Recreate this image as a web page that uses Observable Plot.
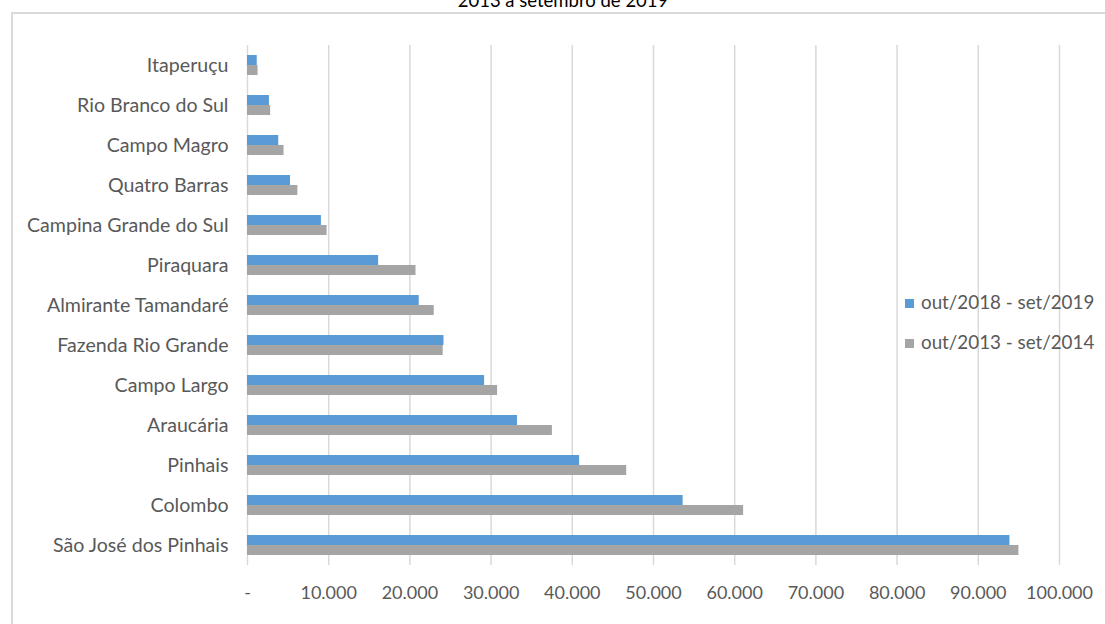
<!DOCTYPE html>
<html>
<head>
<meta charset="utf-8">
<script src="https://cdn.jsdelivr.net/npm/d3@7"></script>
<script src="https://cdn.jsdelivr.net/npm/@observablehq/plot@0.6"></script>
<style>
  html, body { margin: 0; padding: 0; background: #fff; }
  #wrap { position: relative; width: 1105px; height: 624px; overflow: hidden; font-family: Lato, "Open Sans", sans-serif; }
  #title { position: absolute; left: 0; width: 1126px; top: -11px; text-align: center; font-size: 18.5px; color: #000; }
  #frame { position: absolute; left: 11px; top: 12px; width: 1110px; height: 700px; border: 2px solid #d9d9d9; box-sizing: border-box; }
  #chart { position: absolute; left: 0; top: 0; }
  #legend { position: absolute; left: 905px; top: 282px; font-size: 18.8px; color: #595959; line-height: 40px; }
  #legend .sw { display: inline-block; width: 9px; height: 9px; margin-right: 7px; vertical-align: 1px; }
</style>
</head>
<body>
<div id="wrap">
  <div id="frame"></div>
  <div id="title">2013 a setembro de 2019</div>
  <div id="chart"></div>
  <div id="legend"></div>
</div>
<script>
const cities = ["Itaperuçu","Rio Branco do Sul","Campo Magro","Quatro Barras","Campina Grande do Sul","Piraquara","Almirante Tamandaré","Fazenda Rio Grande","Campo Largo","Araucária","Pinhais","Colombo","São José dos Pinhais"];
const series = ["out/2018 - set/2019","out/2013 - set/2014"];
const values2019 = [1200, 2700, 3850, 5300, 9100, 16150, 21150, 24200, 29200, 33250, 40900, 53650, 93900];
const values2014 = [1300, 2850, 4500, 6200, 9800, 20750, 23000, 24100, 30800, 37550, 46700, 61100, 95000];
const colors = ["#5B9BD5","#A5A5A5"];
const xTicks = [0,10000,20000,30000,40000,50000,60000,70000,80000,90000,100000];

const data = [];
cities.forEach((c, i) => {
  data.push({city: c, series: series[0], value: values2019[i]});
  data.push({city: c, series: series[1], value: values2014[i]});
});

const fmt = d => d === 0 ? "-" : d3.format(",")(d).replace(/,/g, ".");

const chart = Plot.plot({
  width: 1105,
  height: 624,
  marginTop: 44,
  marginBottom: 58,
  marginLeft: 247,
  marginRight: 46,
  style: {fontFamily: "Lato, 'Open Sans', sans-serif", fontSize: "18px", color: "#595959", background: "transparent"},
  x: {domain: [0, 100000], ticks: xTicks, tickFormat: fmt, label: null},
  y: {domain: series, paddingInner: 0, paddingOuter: 1, axis: null},
  fy: {domain: cities, padding: 0, label: null},
  color: {domain: series, range: colors},
  marks: [
    Plot.gridX(xTicks, {stroke: "#d9d9d9", strokeOpacity: 1, strokeWidth: 1.5}),
    Plot.barX(data, {fy: "city", y: "series", x: "value", fill: "series", insetTop: 0, insetBottom: 0}),
    Plot.axisX(xTicks, {tickSize: 0, tickPadding: 21, tickFormat: fmt, fill: "#595959", fontSize: 18, facetAnchor: "bottom"}),
    Plot.axisFy({anchor: "left", tickSize: 0, tickPadding: 19, fill: "#595959", fontSize: 19.6, label: null})
  ]
});
document.getElementById("chart").appendChild(chart);

const lg = document.getElementById("legend");
series.forEach((s, i) => {
  const row = document.createElement("div");
  const sw = document.createElement("span");
  sw.className = "sw";
  sw.style.background = colors[i];
  row.appendChild(sw);
  row.appendChild(document.createTextNode(s));
  lg.appendChild(row);
});
</script>
</body>
</html>
